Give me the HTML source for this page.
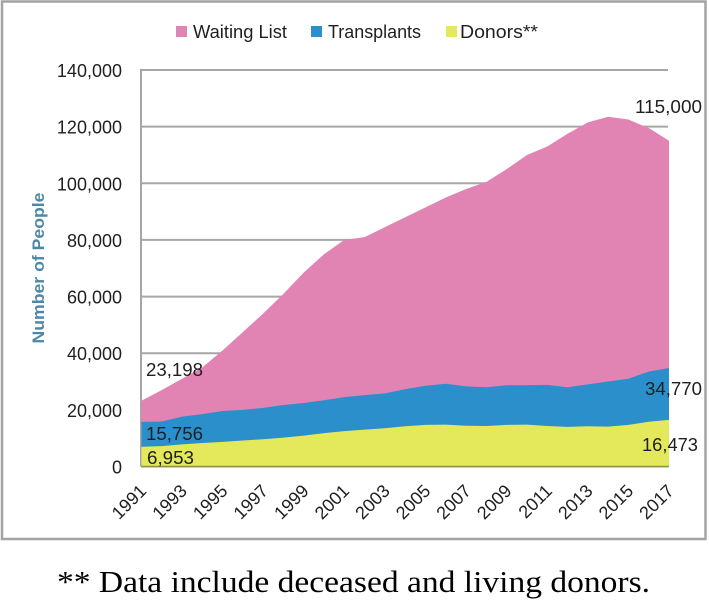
<!DOCTYPE html>
<html>
<head>
<meta charset="utf-8">
<title>Waiting list, transplants and donors</title>
<style>
  html, body { margin: 0; padding: 0; background: #fff; width: 709px; height: 600px; overflow: hidden; }
  svg { display: block; }
  text { font-family: "Liberation Sans", sans-serif; fill: #1f1f1f; }
</style>
</head>
<body>
<svg id="chart" xmlns="http://www.w3.org/2000/svg" width="709" height="600" viewBox="0 0 709 600">
  <rect x="2" y="1.5" width="703.5" height="537.5" fill="#fff" stroke="#a3a3a3" stroke-width="2.5"/>
  <g id="grid" style="filter:blur(0.35px)"></g>
  <g id="areas" style="filter:blur(0.35px)"></g>
  <g id="yticks" style="filter:blur(0.3px)"></g>
  <g id="xticks" style="filter:blur(0.3px)"></g>
  <text transform="translate(44,268) rotate(-90)" text-anchor="middle" font-size="16.5" font-weight="bold" style="fill:#4d88a8;filter:blur(0.3px)" textLength="151" lengthAdjust="spacingAndGlyphs">Number of People</text>

  <g style="filter:blur(0.3px)">
    <g>
      <rect x="176" y="26" width="11" height="11" fill="#e183b3"/>
      <text x="193" y="38" font-size="18" textLength="94" lengthAdjust="spacingAndGlyphs">Waiting List</text>
    </g>
    <g>
      <rect x="311" y="26" width="11" height="11" fill="#2b8fcb"/>
      <text x="328" y="38" font-size="18" textLength="93" lengthAdjust="spacingAndGlyphs">Transplants</text>
    </g>
    <g>
      <rect x="446" y="26" width="11" height="11" fill="#e3e95a"/>
      <text x="460" y="38" font-size="18" textLength="78" lengthAdjust="spacingAndGlyphs">Donors**</text>
    </g>
  </g>

  <g font-size="18" style="filter:blur(0.3px)">
    <text x="146" y="376" textLength="57" lengthAdjust="spacingAndGlyphs">23,198</text>
    <text x="146" y="440" textLength="57" lengthAdjust="spacingAndGlyphs">15,756</text>
    <text x="147" y="464" textLength="47" lengthAdjust="spacingAndGlyphs">6,953</text>
    <text x="635" y="113" textLength="67" lengthAdjust="spacingAndGlyphs">115,000</text>
    <text x="645" y="395" textLength="57" lengthAdjust="spacingAndGlyphs">34,770</text>
    <text x="642" y="451" textLength="56" lengthAdjust="spacingAndGlyphs">16,473</text>
  </g>

  <text x="57" y="592" font-size="31" textLength="593" lengthAdjust="spacingAndGlyphs" style="font-family:'Liberation Serif',serif;fill:#000">** Data include deceased and living donors.</text>
</svg>
<script>
var years = [1991,1992,1993,1994,1995,1996,1997,1998,1999,2000,2001,2002,2003,2004,2005,2006,2007,2008,2009,2010,2011,2012,2013,2014,2015,2016,2017];
var waitingList = [23198,27000,31000,35000,41000,47500,54000,61000,68500,75000,80000,81000,84500,88000,91500,95000,98000,100500,105000,110000,113000,117500,121500,123500,122500,119500,115000];
var transplants = [15756,15900,17600,18500,19600,20000,20700,21700,22400,23400,24500,25200,25800,27300,28500,29200,28300,28000,28700,28700,28800,28000,29000,30000,31000,33500,34770];
var donors = [6953,7200,7800,8300,8700,9200,9600,10200,10900,11800,12500,13000,13500,14200,14700,14800,14400,14300,14700,14800,14300,14000,14200,14100,14700,15800,16473];
var yTickValues = [0,20000,40000,60000,80000,100000,120000,140000];
var yTickLabels = ['0','20,000','40,000','60,000','80,000','100,000','120,000','140,000'];
var xTickLabels = ['1991','1993','1995','1997','1999','2001','2003','2005','2007','2009','2011','2013','2015','2017'];

var NS = 'http://www.w3.org/2000/svg';
function xScale(year) {
  return 141.5 + (year - years[0]) * (669 - 141.5) / (years[years.length - 1] - years[0]);
}
function yScale(v) {
  return 466.5 - v * (466.5 - 70) / 140000;
}
function make(tag, attrs, parent) {
  var el = document.createElementNS(NS, tag);
  for (var k in attrs) el.setAttribute(k, attrs[k]);
  parent.appendChild(el);
  return el;
}

var grid = document.getElementById('grid');
yTickValues.forEach(function (v) {
  var line = make('line', {x1: 141, x2: 668, y1: yScale(v), y2: yScale(v), stroke: '#a6a6a6', 'stroke-width': 2}, grid);
  
  
});
var yAxis = make('line', {x1: 141, x2: 141, y1: yScale(140000) - 1, y2: yScale(0), stroke: '#a6a6a6', 'stroke-width': 2}, grid);



function areaPath(values) {
  var d = 'M' + xScale(years[0]) + ' ' + yScale(0);
  values.forEach(function (v, i) {
    d += 'L' + xScale(years[i]).toFixed(2) + ' ' + yScale(v).toFixed(2);
  });
  return d + 'L' + xScale(years[years.length - 1]) + ' ' + yScale(0) + 'Z';
}
var areas = document.getElementById('areas');
var waitingArea = make('path', {d: areaPath(waitingList), fill: '#e183b3'}, areas);


var transplantsArea = make('path', {d: areaPath(transplants), fill: '#2b8fcb'}, areas);


var donorsArea = make('path', {d: areaPath(donors), fill: '#e3e95a'}, areas);


var baseline = make('line', {x1: 141, x2: 669, y1: yScale(0), y2: yScale(0), stroke: '#8f9440', 'stroke-width': 1.5}, areas);



var yticks = document.getElementById('yticks');
yTickLabels.forEach(function (label, i) {
  var t = make('text', {x: 122, y: yScale(yTickValues[i]) + 7, 'text-anchor': 'end', 'font-size': 18}, yticks);
  t.textContent = label;
  
  
});

var xticks = document.getElementById('xticks');
xTickLabels.forEach(function (label) {
  var px = xScale(Number(label)) + 6;
  var t = make('text', {transform: 'translate(' + px + ',492) rotate(-45)', 'text-anchor': 'end', 'font-size': 18}, xticks);
  t.textContent = label;
  
  
});
</script>
</body>
</html>
